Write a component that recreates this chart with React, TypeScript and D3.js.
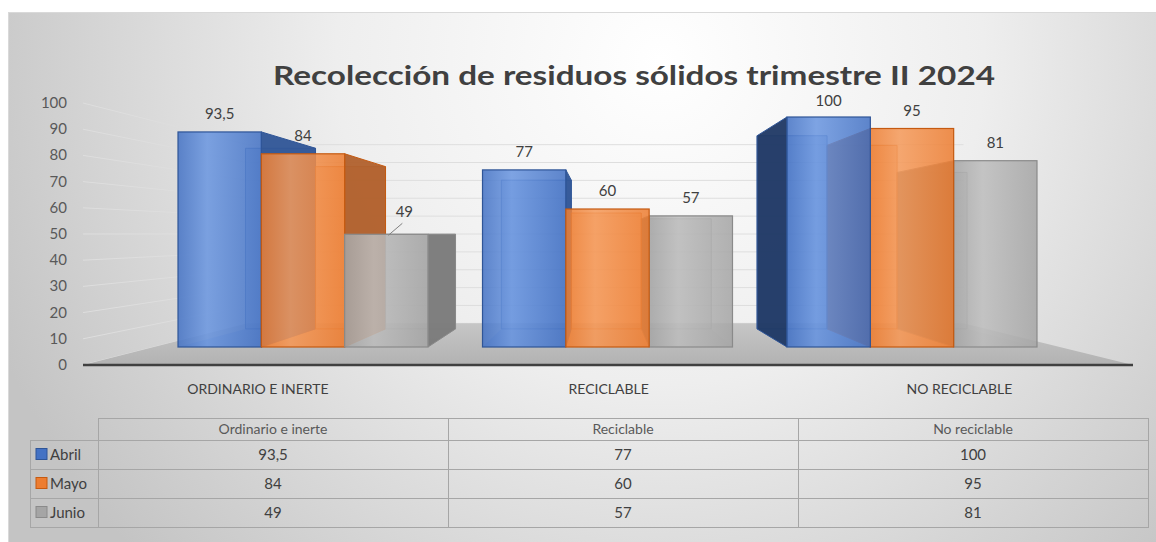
import * as d3 from "d3";

const W = 1156, H = 542;

const title = "Recolección de residuos sólidos trimestre II 2024";
const categories = ["ORDINARIO E INERTE", "RECICLABLE", "NO RECICLABLE"];
const tableHeaders = ["Ordinario e inerte", "Reciclable", "No reciclable"];
const series = ["Abril", "Mayo", "Junio"];
const abril = [93.5, 77, 100];
const mayo = [84, 60, 95];
const junio = [49, 57, 81];
const values = [abril, mayo, junio];
const yTicks = [0, 10, 20, 30, 40, 50, 60, 70, 80, 90, 100];

const front = ["#4472C4", "#ED7D31", "#A5A5A5"];
const frontLight = ["#6a96e0", "#f59a5a", "#bdbdbd"];
const sideR = ["#2F5597", "#b0602c", "#7a7a7a"];
const sideL = ["#1f3864", "#a04d15", "#6a6a6a"];
const edge = ["#2F5597", "#c55a11", "#8a8a8a"];

// perspective: vanishing point and depth factors
const V = { x: 600, y: 234 };
const DEPTH = 0.16;
const FLOOR = 0.318;

const fmt = d3.formatLocale({ decimal: ",", thousands: ".", grouping: [3], currency: ["", ""] }).format("~g");

const axisY = d3.scaleLinear([0, 100], [365, 103]);
const barY = d3.scaleLinear([0, 100], [347, 117]);
const xCat = d3.scaleBand(categories, [150.75, 1064.25]).paddingInner(0.179).paddingOuter(0.0895);
const xSer = d3.scaleBand(series, [0, xCat.bandwidth()]);
const xTable = d3.scaleBand(tableHeaders, [98, 1148]);
const rowY = d3.scaleBand(series, [440, 527]);

const toward = (p: [number, number], t: number): [number, number] => [p[0] + t * (V.x - p[0]), p[1] + t * (V.y - p[1])];
const pts = (a: [number, number][]) => a.map((p) => p.join(",")).join(" ");

const FONT = "Lato, 'Noto Sans', sans-serif";

export default function App() {
  const bars = categories.flatMap((c, i) =>
    series.map((s, j) => {
      const x0 = (xCat(c) ?? 0) + (xSer(s) ?? 0);
      const x1 = x0 + xSer.bandwidth();
      const v = values[j][i];
      return { c, s, i, j, v, x0, x1, yt: barY(v), yb: barY(0) };
    })
  ).sort((a, b) => Math.abs(b.x0 + b.x1 - 2 * V.x) - Math.abs(a.x0 + a.x1 - 2 * V.x));

  const floorPts: [number, number][] = [
    [83, 365], [1133, 365], toward([1133, 365], FLOOR), toward([83, 365], FLOOR),
  ];
  const wallL = toward([83, 365], FLOOR)[0];
  const wallR = toward([1133, 365], FLOOR)[0];

  return (
    <svg width={W} height={H} style={{ display: "block", position: "absolute", left: 0, top: 0 }}>
      <style>{`body{margin:0}`}</style>
      <defs>
        <radialGradient id="bg" gradientUnits="userSpaceOnUse" cx={660} cy={60} r={720}>
          <stop offset="0" stopColor="#ffffff" />
          <stop offset="0.45" stopColor="#eeeeee" />
          <stop offset="1" stopColor="#c4c4c4" />
        </radialGradient>
        <linearGradient id="floor" x1="0" y1="0" x2="0" y2="1">
          <stop offset="0" stopColor="#c6c6c6" />
          <stop offset="1" stopColor="#b2b2b2" />
        </linearGradient>
        {series.map((s, j) => (
          <linearGradient key={s} id={`fr${j}`} x1="0" y1="0" x2="1" y2="0">
            <stop offset="0" stopColor={front[j]} />
            <stop offset="0.35" stopColor={frontLight[j]} />
            <stop offset="1" stopColor={front[j]} />
          </linearGradient>
        ))}
      </defs>
      <rect x={0} y={0} width={W} height={H} fill="#ffffff" />
      <rect x={8.5} y={12.5} width={W} height={H} fill="url(#bg)" stroke="#d9d9d9" />

      <text x={634} y={85} textAnchor="middle" fontFamily={FONT} fontWeight={700} fontSize={27}
        fill="#404040" textLength={722} lengthAdjust="spacingAndGlyphs">{title}</text>

      {/* walls gridlines */}
      {yTicks.map((t) => {
        const a: [number, number] = [83, axisY(t)];
        const b = toward(a, FLOOR);
        return (
          <g key={t} stroke="#dedede" strokeWidth={1}>
            <line x1={a[0]} y1={a[1]} x2={b[0]} y2={b[1]} />
            <line x1={wallL} y1={b[1]} x2={wallR} y2={b[1]} />
          </g>
        );
      })}
      {yTicks.map((t) => (
        <text key={t} x={67} y={axisY(t) + 5} textAnchor="end" fontFamily={FONT} fontSize={15} fill="#595959">{t}</text>
      ))}

      {/* floor */}
      <polygon points={pts(floorPts)} fill="url(#floor)" />
      <line x1={83} y1={365} x2={1133} y2={365} stroke="#404040" strokeWidth={2.5} />

      {/* bars */}
      {bars.map((b) => {
        const fTL: [number, number] = [b.x0, b.yt], fTR: [number, number] = [b.x1, b.yt];
        const fBL: [number, number] = [b.x0, b.yb], fBR: [number, number] = [b.x1, b.yb];
        const [bTL, bTR, bBL, bBR] = [fTL, fTR, fBL, fBR].map((p) => toward(p, DEPTH));
        const showR = b.x1 < V.x;
        const showL = b.x0 > V.x;
        return (
          <g key={b.c + b.s}>
            <polygon points={pts([bTL, bTR, bBR, bBL])} fill={front[b.j]} fillOpacity={0.35}
              stroke={edge[b.j]} strokeOpacity={0.7} />
            <polygon points={pts([fBL, fBR, bBR, bBL])} fill={front[b.j]} fillOpacity={0.3} />
            {showR && (
              <polygon points={pts([fTR, fBR, bBR, bTR])} fill={sideR[b.j]} fillOpacity={0.95} stroke={edge[b.j]} />
            )}
            {showL && (
              <polygon points={pts([fTL, fBL, bBL, bTL])} fill={sideL[b.j]} fillOpacity={0.95} stroke={edge[b.j]} />
            )}
            <rect x={b.x0} y={b.yt} width={b.x1 - b.x0} height={b.yb - b.yt} fill={`url(#fr${b.j})`}
              fillOpacity={0.86} stroke={edge[b.j]} strokeWidth={1.2} />
          </g>
        );
      })}

      {/* data labels */}
      {bars.map((b) => {
        const cx = (b.x0 + b.x1) / 2;
        const nudge = b.i === 0 && b.j === 2;
        const lx = nudge ? cx + 18 : cx;
        const ly = nudge ? b.yt - 17 : b.v === 100 ? b.yt - 11 : b.yt - 13;
        return (
          <g key={"l" + b.c + b.s}>
            {nudge && <line x1={cx + 2} y1={b.yt + 1} x2={lx - 2} y2={ly + 6} stroke="#7f7f7f" />}
            <text x={lx} y={ly} textAnchor="middle" fontFamily={FONT} fontSize={15} fill="#404040">{fmt(b.v)}</text>
          </g>
        );
      })}

      {/* category labels */}
      {categories.map((c) => {
        const cx = (xCat(c) ?? 0) + xCat.bandwidth() / 2;
        return (
          <text key={c} x={V.x + (cx - V.x) * 1.152} y={394} textAnchor="middle" fontFamily={FONT}
            fontSize={14} fill="#404040">{c}</text>
        );
      })}

      {/* data table */}
      <g stroke="#a6a6a6" strokeWidth={1} fill="none" shapeRendering="crispEdges">
        <rect x={98} y={418} width={1050} height={22} />
        <rect x={30} y={440} width={1118} height={87} />
        {tableHeaders.slice(1).map((h) => (
          <line key={h} x1={xTable(h)} y1={418} x2={xTable(h)} y2={527} />
        ))}
        <line x1={98} y1={440} x2={98} y2={527} />
        {series.slice(1).map((s) => (
          <line key={s} x1={30} y1={rowY(s)} x2={1148} y2={rowY(s)} />
        ))}
      </g>
      {tableHeaders.map((h) => (
        <text key={h} x={(xTable(h) ?? 0) + xTable.bandwidth() / 2} y={434} textAnchor="middle"
          fontFamily={FONT} fontSize={14} fill="#595959">{h}</text>
      ))}
      {series.map((s, j) => {
        const y = (rowY(s) ?? 0) + rowY.bandwidth() / 2;
        return (
          <g key={s}>
            <rect x={36} y={y - 6} width={11} height={11} fill={front[j]} stroke={edge[j]} />
            <text x={50} y={y + 5} fontFamily={FONT} fontSize={15} fill="#404040">{s}</text>
            {tableHeaders.map((h, i) => (
              <text key={h} x={(xTable(h) ?? 0) + xTable.bandwidth() / 2} y={y + 5} textAnchor="middle"
                fontFamily={FONT} fontSize={15} fill="#404040">{fmt(values[j][i])}</text>
            ))}
          </g>
        );
      })}
    </svg>
  );
}
